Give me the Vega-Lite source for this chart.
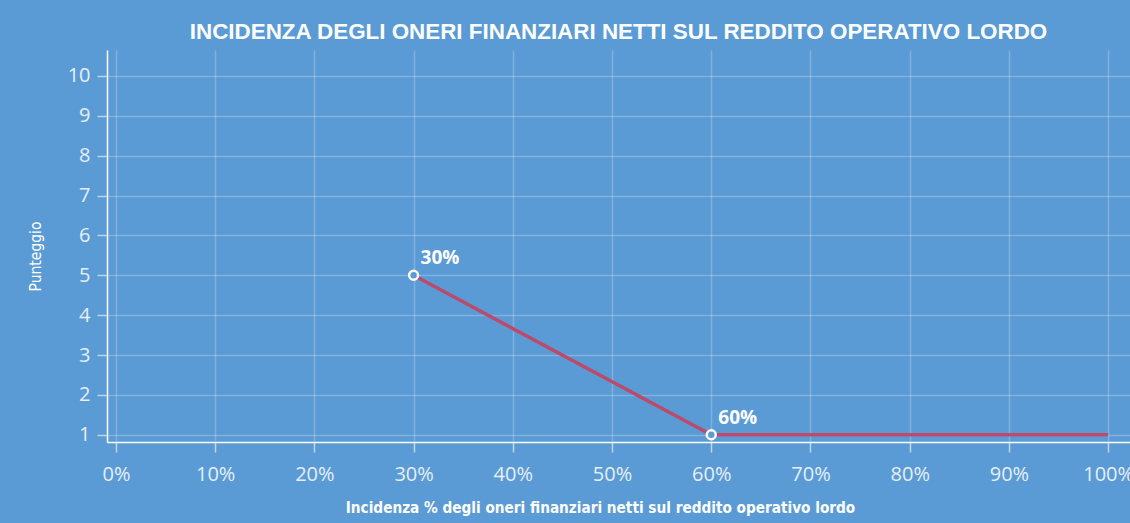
{
  "$schema": "https://vega.github.io/schema/vega-lite/v6.json",
  "autosize": {"type": "none"},
  "width": 1023,
  "height": 392,
  "padding": {"left": 107, "top": 50, "right": 0, "bottom": 81},
  "background": "#5B9BD5",
  "config": {
    "view": {"stroke": null},
    "font": "Liberation Sans"
  },
  "title": {
    "text": "INCIDENZA DEGLI ONERI FINANZIARI NETTI SUL REDDITO OPERATIVO LORDO",
    "color": "white",
    "font": "Liberation Sans",
    "fontSize": 22.4,
    "fontWeight": "bold",
    "anchor": "middle",
    "offset": 7
  },
  "data": {
    "values": [
      {"x": 30, "y": 5, "label": "30%", "marker": true},
      {"x": 60, "y": 1, "label": "60%", "marker": true},
      {"x": 100, "y": 1, "label": "", "marker": false}
    ]
  },
  "encoding": {
    "x": {
      "field": "x",
      "type": "quantitative",
      "scale": {"domain": [-0.9, 102.2], "nice": false, "zero": false},
      "axis": {
        "values": [0, 10, 20, 30, 40, 50, 60, 70, 80, 90, 100],
        "labelExpr": "datum.value + '%'",
        "title": "Incidenza % degli oneri finanziari netti sul reddito operativo lordo",
        "titleFont": "DejaVu Sans Condensed, Roboto Condensed, Roboto",
        "titleFontSize": 15.2,
        "titleFontWeight": "bold",
        "titleColor": "white",
        "titlePadding": 16,
        "titleX": 493,
        "labelFont": "Open Sans",
        "labelFontSize": 20,
        "labelColor": "#E6EEF8",
        "labelPadding": 12,
        "domainColor": "white",
        "domainWidth": 1.5,
        "tickColor": "white",
        "tickOpacity": 0.6,
        "tickSize": 10,
        "tickWidth": 1.5,
        "gridColor": "white",
        "gridOpacity": 0.22,
        "gridWidth": 1.5,
        "labelFlush": false
      }
    },
    "y": {
      "field": "y",
      "type": "quantitative",
      "scale": {"domain": [0.82, 10.65], "nice": false, "zero": false},
      "axis": {
        "values": [1, 2, 3, 4, 5, 6, 7, 8, 9, 10],
        "title": "Punteggio",
        "titleFont": "DejaVu Sans Condensed, Roboto Condensed, Roboto",
        "titleFontSize": 15.5,
        "titleFontWeight": "normal",
        "titleColor": "white",
        "titlePadding": 24,
        "titleY": 206,
        "labelFont": "Open Sans",
        "labelFontSize": 20,
        "labelColor": "#E6EEF8",
        "labelPadding": 7,
        "domainColor": "white",
        "domainWidth": 1.5,
        "tickColor": "white",
        "tickOpacity": 0.6,
        "tickSize": 10,
        "tickWidth": 1.5,
        "gridColor": "white",
        "gridOpacity": 0.22,
        "gridWidth": 1.5,
        "labelFlush": false
      }
    }
  },
  "layer": [
    {
      "mark": {"type": "line", "color": "#BC4A6B", "strokeWidth": 3.5}
    },
    {
      "transform": [{"filter": "datum.marker"}],
      "mark": {"type": "point", "shape": "circle", "filled": true, "fill": "#5B9BD5", "stroke": "white", "strokeWidth": 2.5, "size": 80, "opacity": 1}
    },
    {
      "transform": [{"filter": "datum.marker"}],
      "mark": {"type": "text", "align": "left", "baseline": "middle", "dx": 7, "dy": -17, "color": "white", "font": "Open Sans", "fontWeight": "bold", "fontSize": 19},
      "encoding": {"text": {"field": "label"}}
    }
  ]
}
